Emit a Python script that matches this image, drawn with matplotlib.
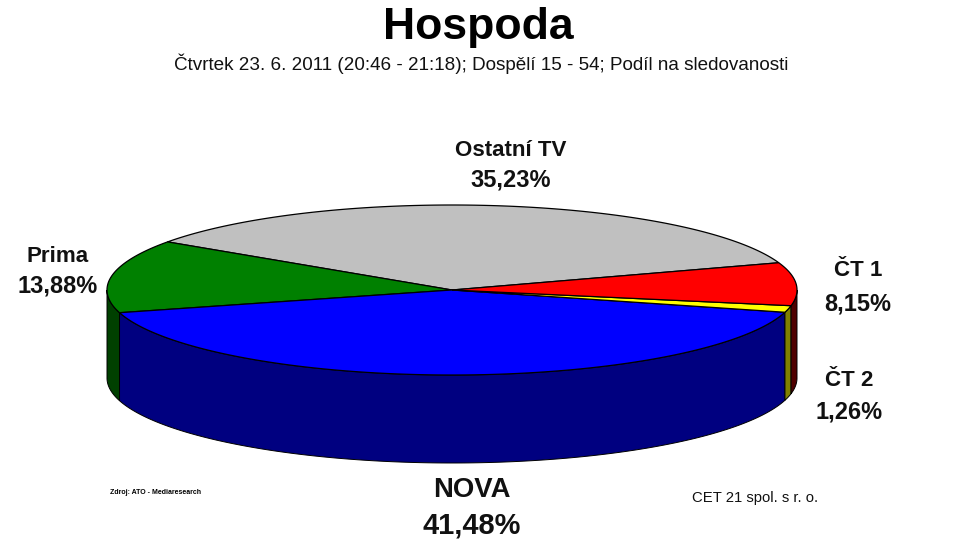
import numpy as np
import matplotlib
matplotlib.use("Agg")
import matplotlib.pyplot as plt
from matplotlib.patches import Polygon

plt.rcParams['font.family'] = ['Liberation Sans', 'DejaVu Sans']

# share of viewers, anticlockwise from the CT 1 / Ostatni edge
channels = ["Ostatní TV", "Prima", "NOVA", "ČT 2", "ČT 1"]
shares = [35.23, 13.88, 41.48, 1.26, 8.15]
top_colors = ["#c0c0c0", "#008000", "#0000ff", "#ffff00", "#ff0000"]
side_colors = ["#606060", "#004000", "#000080", "#808000", "#500000"]
value_labels = ["35,23%", "13,88%", "41,48%", "1,26%", "8,15%"]

title = "Hospoda"
subtitle = "Čtvrtek 23. 6. 2011 (20:46 - 21:18); Dospělí 15 - 54; Podíl na sledovanosti"

# pie geometry in pixels
cx, cy = 452, 290
rx, ry = 345, 85
depth = 88
start = 18.7

# where each label goes: center x, name y, value y
label_pos = {
    "Ostatní TV": (511, 150, 180),
    "Prima": (58, 256, 286),
    "NOVA": (472, 490, 526),
    "ČT 2": (849, 381, 412),
    "ČT 1": (858, 271, 304),
}


def rim(t0, t1, n=200):
    t = np.radians(np.linspace(t0, t1, n))
    return cx + rx * np.cos(t), cy - ry * np.sin(t)


fig = plt.figure(figsize=(9.59, 5.41), dpi=100)
ax = fig.add_axes([0, 0, 1, 1])
ax.set_xlim(0, 959)
ax.set_ylim(541, 0)
ax.axis("off")

edges = start + np.cumsum([0] + shares) * 3.6

# side walls, only the front half of the ellipse shows
for i in range(len(shares)):
    for lo, hi in [(180, 360), (540, 720)]:
        t0 = max(edges[i], lo)
        t1 = min(edges[i + 1], hi)
        if t1 <= t0:
            continue
        x, y = rim(t0, t1)
        pts = np.r_[np.c_[x, y], np.c_[x[::-1], y[::-1] + depth]]
        ax.add_patch(Polygon(pts, closed=True, fc=side_colors[i], ec="black", lw=0.7, zorder=2))

# top face
for i in range(len(shares)):
    x, y = rim(edges[i], edges[i + 1])
    pts = np.r_[[[cx, cy]], np.c_[x, y]]
    ax.add_patch(Polygon(pts, closed=True, fc=top_colors[i], ec="black", lw=0.9, zorder=3))

ax.text(478, 27, title, ha="center", va="center", fontsize=32, fontweight="bold", color="black")
ax.text(481, 64, subtitle, ha="center", va="center", fontsize=13.6, color="#111111")

for name, val in zip(channels, value_labels):
    lx, y1, y2 = label_pos[name]
    size = 21.5 if name == "NOVA" else 17.5
    ax.text(lx, y1, name, ha="center", va="center", fontsize=size * 0.92, fontweight="bold", color="#111111")
    ax.text(lx, y2, val, ha="center", va="center", fontsize=size * 0.97, fontweight="bold", color="#111111")

ax.text(110, 492, "Zdroj: ATO - Mediaresearch", ha="left", va="center", fontsize=5, fontweight="bold", color="black")
ax.text(692, 498, "CET 21 spol. s r. o.", ha="left", va="center", fontsize=10.7, color="#111111")

fig.savefig("out.png", dpi=100)
